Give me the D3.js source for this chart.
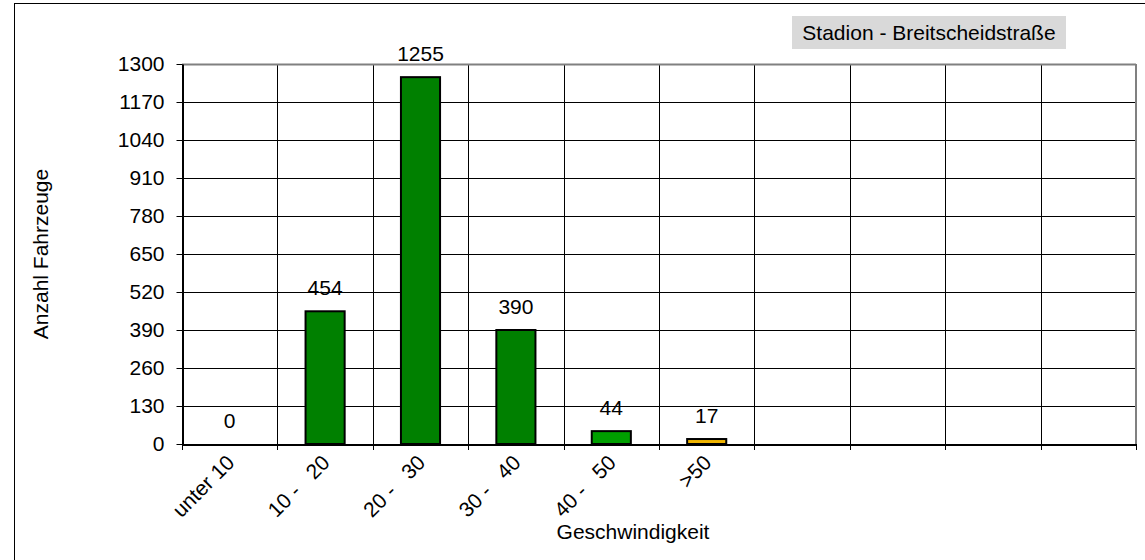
<!DOCTYPE html>
<html><head><meta charset="utf-8">
<script src="https://cdn.jsdelivr.net/npm/d3@7"></script>
<style>body{margin:0;background:#fff}text{font-family:"Liberation Sans",Arial,sans-serif;fill:#000}</style>
</head><body><svg id="c" width="1145" height="560"></svg>
<script>
const categories = ["unter 10", "10 -   20", "20 -   30", "30 -   40", "40 -   50", ">50", "c7", "c8", "c9", "c10"];
const tickLabels = ["unter 10", "10 -   20", "20 -   30", "30 -   40", "40 -   50", ">50", "", "", "", ""];
const values = [0, 454, 1255, 390, 44, 17, null, null, null, null];
const barColors = ["#008000", "#008000", "#008000", "#008000", "#009f00", "#f0b400", null, null, null, null];
const yTicks = [0, 130, 260, 390, 520, 650, 780, 910, 1040, 1170, 1300];
const title = "Stadion - Breitscheidstraße";
const xTitle = "Geschwindigkeit";
const yTitle = "Anzahl Fahrzeuge";

const svg = d3.select("#c");
const L = 182, R = 1136, T = 64, B = 444;
const x = d3.scaleBand().domain(categories).range([L, R]).paddingInner(0).paddingOuter(0);
const y = d3.scaleLinear().domain([0, 1300]).range([B, T]);
const FS = 21;

// outer frame
svg.append("rect").attr("x", 14.5).attr("y", 3.5).attr("width", 1145).attr("height", 570)
  .attr("fill", "none").attr("stroke", "#000").attr("stroke-width", 1);

// horizontal grid
svg.append("g").selectAll("line").data(yTicks.slice(1, -1)).join("line")
  .attr("x1", L).attr("x2", R).attr("y1", d => Math.round(y(d)) + 0.5).attr("y2", d => Math.round(y(d)) + 0.5)
  .attr("stroke", "#000").attr("stroke-width", 1);
// vertical grid
svg.append("g").selectAll("line").data(categories.slice(1)).join("line")
  .attr("x1", d => Math.round(x(d)) + 0.5).attr("x2", d => Math.round(x(d)) + 0.5).attr("y1", T).attr("y2", B)
  .attr("stroke", "#000").attr("stroke-width", 1);
// plot border top/right gray
svg.append("line").attr("x1", L).attr("x2", R).attr("y1", T + 0.5).attr("y2", T + 0.5).attr("stroke", "#808080").attr("stroke-width", 2);
svg.append("line").attr("x1", R).attr("x2", R).attr("y1", T).attr("y2", B).attr("stroke", "#808080").attr("stroke-width", 2);

// bars
const bw = x.bandwidth() * 0.41;
svg.append("g").selectAll("rect").data(categories.map((c, i) => ({c, v: values[i], col: barColors[i]})).filter(d => d.v !== null && d.v > 0))
  .join("rect")
  .attr("x", d => x(d.c) + (x.bandwidth() - bw) / 2).attr("width", bw)
  .attr("y", d => y(d.v)).attr("height", d => B - y(d.v))
  .attr("fill", d => d.col).attr("stroke", "#000").attr("stroke-width", 2);

// value labels
svg.append("g").selectAll("text").data(categories.map((c, i) => ({c, v: values[i]})).filter(d => d.v !== null))
  .join("text")
  .attr("x", d => x(d.c) + x.bandwidth() / 2).attr("y", d => y(d.v) - 16)
  .attr("text-anchor", "middle").attr("font-size", FS).text(d => d.v);

// y axis
const yAxis = d3.axisLeft(y).tickValues(yTicks).tickFormat(d3.format("d")).tickSize(6).tickPadding(12).tickSizeOuter(0);
const gy = svg.append("g").attr("transform", `translate(${L + 0.5},0)`).call(yAxis);
gy.select(".domain").attr("stroke", "#000").attr("stroke-width", 2);
gy.selectAll(".tick line").attr("stroke", "#000");
gy.selectAll(".tick text").attr("font-size", FS).attr("font-family", "Liberation Sans, Arial, sans-serif").attr("fill", "#000");

// x axis
const xAxis = d3.axisBottom(x).tickSize(0).tickFormat("");
const gx = svg.append("g").attr("transform", `translate(0,${B + 0.5})`).call(xAxis);
gx.select(".domain").attr("stroke", "#000").attr("stroke-width", 2);
// x ticks at category boundaries
svg.append("g").selectAll("line").data(categories.concat(["__end"])).join("line")
  .attr("x1", (d, i) => Math.round(i < categories.length ? x(d) : R) + 0.5)
  .attr("x2", (d, i) => Math.round(i < categories.length ? x(d) : R) + 0.5)
  .attr("y1", B).attr("y2", B + 6).attr("stroke", "#000");
// x tick labels
svg.append("g").selectAll("text").data(categories.map((c, i) => ({c, t: tickLabels[i]})).filter(d => d.t))
  .join("text")
  .attr("transform", d => `translate(${x(d.c) + x.bandwidth() / 2 + 6},${B + 20}) rotate(-45)`)
  .attr("text-anchor", "end").attr("font-size", FS).style("white-space", "pre").text(d => d.t);

// axis titles
svg.append("text").attr("x", 633).attr("y", 539).attr("text-anchor", "middle")
  .attr("font-size", FS).text(xTitle);
svg.append("text").attr("transform", `translate(48,${(T + B) / 2}) rotate(-90)`).attr("text-anchor", "middle")
  .attr("font-size", FS).text(yTitle);

// title box
svg.append("rect").attr("x", 792).attr("y", 16).attr("width", 274).attr("height", 33).attr("fill", "#d9d9d9");
svg.append("text").attr("x", 929).attr("y", 40).attr("text-anchor", "middle").attr("font-size", FS).text(title);
</script></body></html>
